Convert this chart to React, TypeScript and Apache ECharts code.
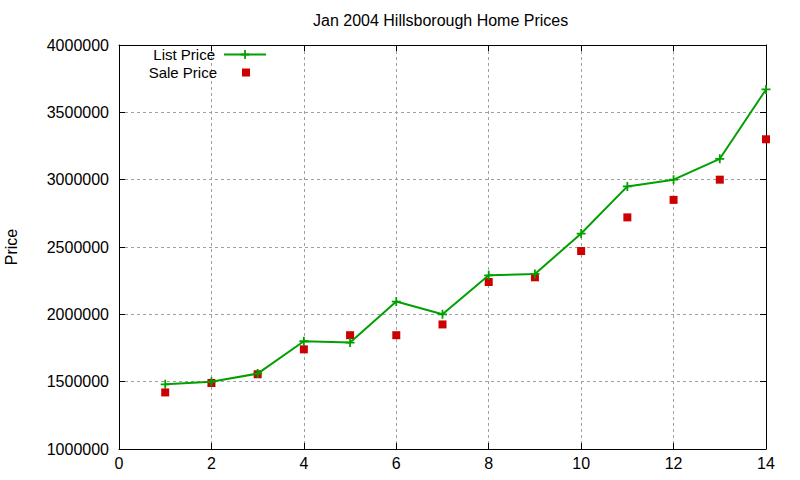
import { useEffect, useRef } from 'react';
import * as echarts from 'echarts';

// x positions (1..14) and prices
const points = [1, 2, 3, 4, 5, 6, 7, 8, 9, 10, 11, 12, 13, 14];
const listPrice = [
    1480000, 1500000, 1560000, 1800000, 1790000, 2095000, 2000000,
    2290000, 2300000, 2600000, 2950000, 3000000, 3155000, 3670000,
];
const salePrice = [
    1420000, 1490000, 1555000, 1740000, 1845000, 1845000, 1925000,
    2240000, 2275000, 2470000, 2720000, 2850000, 3000000, 3300000,
];
const xTicks = { min: 0, max: 14, interval: 2 };
const yTicks = { min: 1000000, max: 4000000, interval: 500000 };

const FONT = 'Liberation Sans';
const GREEN = '#00a000';
const RED = '#cc0000';
const PLUS = 'path://M4,0h2v4h4v2h-4v4h-2v-4h-4v-2h4z';

const App = () => {
    const chartRef = useRef(null);

    useEffect(() => {
        document.body.style.margin = '0';
        const myChart = echarts.init(chartRef.current, null, { renderer: 'svg' });

        const tick = { show: true, inside: true, length: 6, lineStyle: { color: '#000' } };
        const line = { show: true, onZero: false, lineStyle: { color: '#000', width: 1 } };
        const split = { show: true, lineStyle: { color: '#a0a0a0', type: [3, 3], width: 1 } };
        const legendText = {
            fontFamily: FONT, fontSize: 15, lineHeight: 15, color: '#000',
        };

        myChart.setOption({
            animation: false,
            textStyle: { fontFamily: FONT },
            title: {
                text: 'Jan 2004 Hillsborough Home Prices',
                left: 313,
                top: 12,
                padding: 0,
                textStyle: { fontFamily: FONT, fontSize: 16, fontWeight: 'normal', color: '#000' },
            },
            legend: [
                {
                    data: ['List Price'],
                    right: 533,
                    top: 47,
                    padding: 0,
                    align: 'right',
                    itemWidth: 42,
                    itemHeight: 11,
                    selectedMode: false,
                    textStyle: { ...legendText, padding: [0, 4, 0, 0] },
                },
                {
                    data: ['Sale Price'],
                    right: 550,
                    top: 65,
                    padding: 0,
                    align: 'right',
                    itemWidth: 8,
                    itemHeight: 8,
                    selectedMode: false,
                    textStyle: { ...legendText, padding: [0, 20, 0, 0] },
                },
            ],
            grid: { left: 119, right: 34, top: 45, bottom: 31, outerBoundsMode: 'none', containLabel: false },
            xAxis: [
                {
                    type: 'value',
                    ...xTicks,
                    axisLine: line,
                    axisTick: tick,
                    splitLine: split,
                    axisLabel: { color: '#000', fontSize: 16, fontFamily: FONT, margin: 6 },
                },
                {
                    type: 'value',
                    position: 'top',
                    ...xTicks,
                    axisLine: line,
                    axisTick: tick,
                    splitLine: { show: false },
                    axisLabel: { show: false },
                },
            ],
            yAxis: [
                {
                    type: 'value',
                    ...yTicks,
                    name: 'Price',
                    nameLocation: 'middle',
                    nameRotate: 90,
                    nameGap: 100,
                    nameTextStyle: { color: '#000', fontSize: 16, fontFamily: FONT },
                    axisLine: line,
                    axisTick: tick,
                    splitLine: split,
                    axisLabel: {
                        color: '#000',
                        fontSize: 16,
                        fontFamily: FONT,
                        margin: 10,
                        formatter: (v: number) => String(v),
                    },
                },
                {
                    type: 'value',
                    position: 'right',
                    ...yTicks,
                    axisLine: line,
                    axisTick: tick,
                    splitLine: { show: false },
                    axisLabel: { show: false },
                },
            ],
            series: [
                {
                    name: 'List Price',
                    type: 'line',
                    data: points.map((x, i) => [x, listPrice[i]]),
                    symbol: PLUS,
                    symbolSize: 9,
                    showAllSymbol: true,
                    itemStyle: { color: GREEN },
                    lineStyle: { color: GREEN, width: 2 },
                },
                {
                    name: 'Sale Price',
                    type: 'scatter',
                    data: points.map((x, i) => [x, salePrice[i]]),
                    symbol: 'rect',
                    symbolSize: 8,
                    itemStyle: { color: RED, opacity: 1 },
                },
            ],
        });

        return () => {
            myChart.dispose();
        };
    }, []);

    return <div ref={chartRef} style={{ width: '800px', height: '480px' }} />;
};

export default App;
